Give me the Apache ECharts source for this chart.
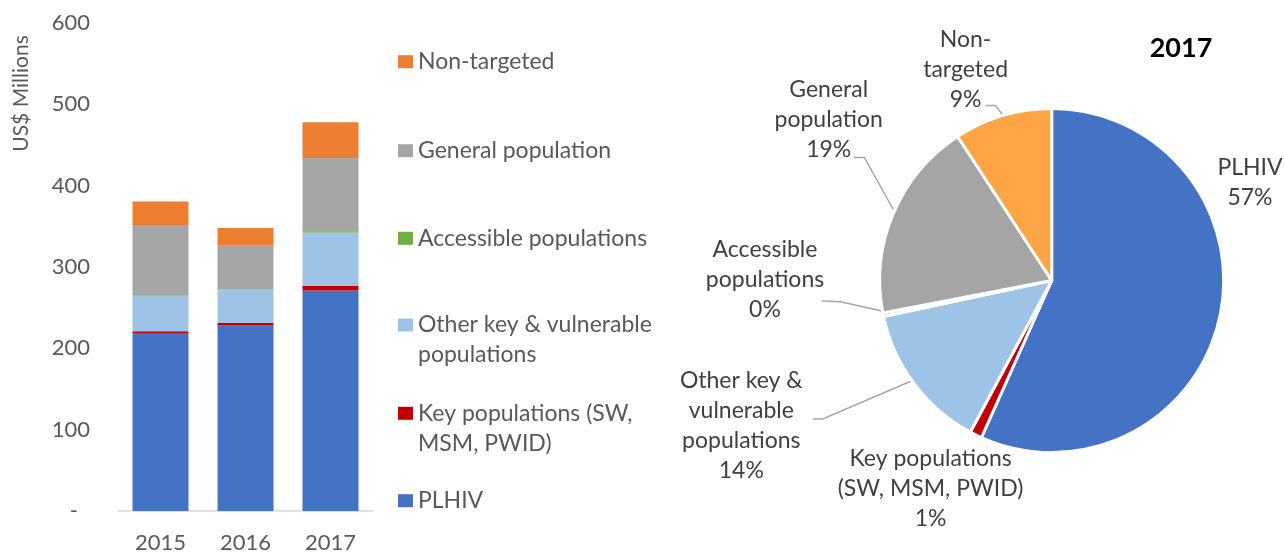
<!DOCTYPE html>
<html>
<head>
<meta charset="utf-8">
<script src="https://cdn.jsdelivr.net/npm/echarts@6/dist/echarts.min.js"></script>
<style>
html,body{margin:0;padding:0;background:#fff;}
#chart{width:1284px;height:555px;}
</style>
</head>
<body>
<div id="chart"></div>
<script>
// ---- data ----
const years = ['2015', '2016', '2017'];
const seriesNames = ['PLHIV', 'Key populations (SW, MSM, PWID)', 'Other key & vulnerable populations', 'Accessible populations', 'General population', 'Non-targeted'];
const plhiv = [219, 228, 271];
const keyPop = [2, 3.5, 5.5];
const otherKey = [43, 41, 66];
const accessible = [0.5, 0.5, 1.5];
const generalPop = [87, 53, 90];
const nonTargeted = [29, 22, 44];
const yTicks = [0, 100, 200, 300, 400, 500, 600];
const pieYear = '2017';
const legendText = ['PLHIV', 'Key populations (SW,\nMSM, PWID)', 'Other key & vulnerable\npopulations', 'Accessible populations', 'General population', 'Non-targeted'];
const pieLabelText = ['PLHIV', 'Key populations\n(SW, MSM, PWID)', 'Other key &\nvulnerable\npopulations', 'Accessible\npopulations', 'General\npopulation', 'Non-\ntargeted'];

// ---- styling / layout config ----
const FONT = 'Lato';
const barColors = ['#4472C4', '#C00000', '#9DC3E6', '#70AD47', '#A5A5A5', '#ED7D31'];
const pieColors = ['#4472C4', '#C00000', '#9DC3E6', '#70AD47', '#A5A5A5', '#FFA546'];
const seriesValues = [plhiv, keyPop, otherKey, accessible, generalPop, nonTargeted];
const legendIconCenters = [500.7, 413.3, 325, 238.3, 150.7, 61.7];
const pieLabelPos = [
  {x: 1250, y: 183, line: null},
  {x: 930.6, y: 489, line: null},
  {x: 741.3, y: 425.7, line: [[910.8, 381.3], [822.7, 419], [812.8, 419]]},
  {x: 765, y: 279.3, line: [[882.2, 311], [840.5, 301.8], [821.9, 301]]},
  {x: 828.7, y: 119.1, line: [[893.3, 209.5], [864.4, 157.4], [853.7, 157.4]]},
  {x: 965.6, y: 69.6, line: [[1003.3, 115.5], [995.3, 105.6], [985.4, 105.6]]}
];

const chart = echarts.init(document.getElementById('chart'), null, {renderer: 'canvas'});

const barSeries = seriesNames.map((name, i) => ({
  name: name,
  type: 'bar',
  stack: 'total',
  barWidth: 56,
  data: seriesValues[i],
  itemStyle: {color: barColors[i]},
  emphasis: {disabled: true}
}));

const yearIdx = years.indexOf(pieYear);
const pieData = seriesNames.map((name, i) => ({
  name: name,
  value: seriesValues[i][yearIdx],
  itemStyle: {color: pieColors[i]},
  labelLine: {show: !!pieLabelPos[i].line}
}));

const legends = seriesNames.map((name, i) => {
  const multi = legendText[i].indexOf('\n') >= 0;
  const lh = 30;
  return {
    data: [name],
    orient: 'vertical',
    left: 398,
    top: legendIconCenters[i] - (multi ? lh * 1.5 : lh / 2),
    padding: 0,
    itemWidth: 15,
    itemHeight: 13,
    icon: 'rect',
    itemGap: 0,
    formatter: () => multi ? '\n' + legendText[i] : legendText[i],
    textStyle: {fontFamily: FONT, fontSize: 23, color: '#595959', lineHeight: lh}
  };
});

chart.setOption({
  animation: false,
  textStyle: {fontFamily: FONT},
  title: {
    text: pieYear,
    left: 1181,
    top: 35,
    padding: 0,
    textAlign: 'center',
    textStyle: {fontFamily: FONT, fontWeight: 'bold', fontSize: 27, color: '#000'}
  },
  legend: legends,
  grid: {left: 118, width: 255, top: 23, bottom: 40.7, containLabel: false},
  xAxis: {
    type: 'category',
    data: years,
    axisLine: {lineStyle: {color: '#D9D9D9', width: 1.5}},
    axisTick: {show: false},
    axisLabel: {fontFamily: FONT, fontSize: 22, color: '#595959', margin: 20, lineHeight: 24}
  },
  yAxis: {
    type: 'value',
    min: yTicks[0],
    max: yTicks[yTicks.length - 1],
    interval: yTicks[1] - yTicks[0],
    splitLine: {show: false},
    axisLine: {show: false},
    axisTick: {show: false},
    axisLabel: {
      fontFamily: FONT, fontSize: 22, color: '#595959', margin: 28,
      formatter: v => v === 0 ? '{d|-}' : String(v),
      rich: {d: {fontFamily: FONT, fontSize: 22, color: '#595959', padding: [0, 12, 0, 0]}}
    }
  },
  graphic: [{
    type: 'text',
    x: 21.7, y: 93.5,
    rotation: Math.PI / 2,
    style: {text: 'US$ Millions', fontFamily: FONT, fontSize: 21, fill: '#595959', align: 'center', verticalAlign: 'middle'}
  }],
  series: barSeries.concat([{
    name: pieYear,
    type: 'pie',
    center: [1051.7, 280.5],
    radius: 172,
    startAngle: 90,
    clockwise: true,
    percentPrecision: 0,
    avoidLabelOverlap: false,
    itemStyle: {borderColor: '#fff', borderWidth: 3},
    emphasis: {disabled: true},
    label: {
      show: true,
      position: 'outside',
      fontFamily: FONT, fontSize: 23, color: '#404040', lineHeight: 30,
      align: 'center',
      formatter: p => pieLabelText[p.dataIndex] + '\n' + p.percent + '%'
    },
    labelLine: {show: true, lineStyle: {color: '#A6A6A6', width: 1.5}},
    labelLayout: function (params) {
      const c = pieLabelPos[params.dataIndex];
      const out = {x: c.x, y: c.y, align: 'center', verticalAlign: 'middle'};
      if (c.line) out.labelLinePoints = c.line;
      return out;
    },
    data: pieData
  }])
});
</script>
</body>
</html>
